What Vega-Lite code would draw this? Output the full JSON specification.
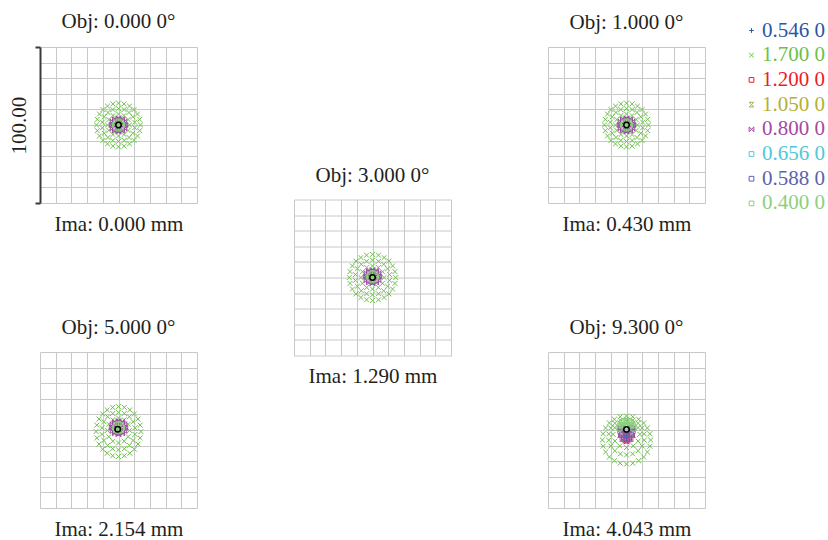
{
  "$schema": "https://vega.github.io/schema/vega-lite/v6.json",
  "padding": {"left": 8, "top": 11, "right": 0, "bottom": 5},
  "datasets": {
    "s": [
      {"p":1,"w":"1.700 0","x":14,"y":0},{"p":1,"w":"1.700 0","x":13.5,"y":3.6},{"p":1,"w":"1.700 0","x":12.1,"y":7},{"p":1,"w":"1.700 0","x":9.9,"y":9.9},{"p":1,"w":"1.700 0","x":7,"y":12.1},{"p":1,"w":"1.700 0","x":3.6,"y":13.5},{"p":1,"w":"1.700 0","x":0,"y":14},{"p":1,"w":"1.700 0","x":-3.6,"y":13.5},{"p":1,"w":"1.700 0","x":-7,"y":12.1},{"p":1,"w":"1.700 0","x":-9.9,"y":9.9},{"p":1,"w":"1.700 0","x":-12.1,"y":7},{"p":1,"w":"1.700 0","x":-13.5,"y":3.6},{"p":1,"w":"1.700 0","x":-14,"y":0},{"p":1,"w":"1.700 0","x":-13.5,"y":-3.6},{"p":1,"w":"1.700 0","x":-12.1,"y":-7},{"p":1,"w":"1.700 0","x":-9.9,"y":-9.9},{"p":1,"w":"1.700 0","x":-7,"y":-12.1},{"p":1,"w":"1.700 0","x":-3.6,"y":-13.5},{"p":1,"w":"1.700 0","x":0,"y":-14},{"p":1,"w":"1.700 0","x":3.6,"y":-13.5},{"p":1,"w":"1.700 0","x":7,"y":-12.1},{"p":1,"w":"1.700 0","x":9.9,"y":-9.9},{"p":1,"w":"1.700 0","x":12.1,"y":-7},{"p":1,"w":"1.700 0","x":13.5,"y":-3.6},
      {"p":1,"w":"1.700 0","x":10.3,"y":1.8},{"p":1,"w":"1.700 0","x":9.1,"y":5.3},{"p":1,"w":"1.700 0","x":6.7,"y":8},{"p":1,"w":"1.700 0","x":3.6,"y":9.9},{"p":1,"w":"1.700 0","x":0,"y":10.5},{"p":1,"w":"1.700 0","x":-3.6,"y":9.9},{"p":1,"w":"1.700 0","x":-6.7,"y":8},{"p":1,"w":"1.700 0","x":-9.1,"y":5.3},{"p":1,"w":"1.700 0","x":-10.3,"y":1.8},{"p":1,"w":"1.700 0","x":-10.3,"y":-1.8},{"p":1,"w":"1.700 0","x":-9.1,"y":-5.3},{"p":1,"w":"1.700 0","x":-6.7,"y":-8},{"p":1,"w":"1.700 0","x":-3.6,"y":-9.9},{"p":1,"w":"1.700 0","x":0,"y":-10.5},{"p":1,"w":"1.700 0","x":3.6,"y":-9.9},{"p":1,"w":"1.700 0","x":6.7,"y":-8},{"p":1,"w":"1.700 0","x":9.1,"y":-5.3},{"p":1,"w":"1.700 0","x":10.3,"y":-1.8},
      {"p":1,"w":"1.700 0","x":7,"y":0},{"p":1,"w":"1.700 0","x":6.1,"y":3.5},{"p":1,"w":"1.700 0","x":3.5,"y":6.1},{"p":1,"w":"1.700 0","x":0,"y":7},{"p":1,"w":"1.700 0","x":-3.5,"y":6.1},{"p":1,"w":"1.700 0","x":-6.1,"y":3.5},{"p":1,"w":"1.700 0","x":-7,"y":0},{"p":1,"w":"1.700 0","x":-6.1,"y":-3.5},{"p":1,"w":"1.700 0","x":-3.5,"y":-6.1},{"p":1,"w":"1.700 0","x":0,"y":-7},{"p":1,"w":"1.700 0","x":3.5,"y":-6.1},{"p":1,"w":"1.700 0","x":6.1,"y":-3.5},
      {"p":1,"w":"0.656 0","x":2,"y":2},{"p":1,"w":"0.656 0","x":-2,"y":2},{"p":1,"w":"0.656 0","x":-2,"y":-2},{"p":1,"w":"0.656 0","x":2,"y":-2},
      {"p":1,"w":"1.050 0","x":2.2,"y":0},{"p":1,"w":"1.050 0","x":0,"y":2.2},{"p":1,"w":"1.050 0","x":-2.2,"y":0},{"p":1,"w":"1.050 0","x":0,"y":-2.2},
      {"p":1,"w":"1.200 0","x":2.5,"y":0},{"p":1,"w":"1.200 0","x":0,"y":2.5},{"p":1,"w":"1.200 0","x":-2.5,"y":0},{"p":1,"w":"1.200 0","x":0,"y":-2.5},
      {"p":1,"w":"0.546 0","x":1.4,"y":1.4},{"p":1,"w":"0.546 0","x":-1.4,"y":1.4},{"p":1,"w":"0.546 0","x":-1.4,"y":-1.4},{"p":1,"w":"0.546 0","x":1.4,"y":-1.4},
      {"p":1,"w":"0.588 0","x":3.3,"y":0},{"p":1,"w":"0.588 0","x":2.3,"y":2.3},{"p":1,"w":"0.588 0","x":0,"y":3.3},{"p":1,"w":"0.588 0","x":-2.3,"y":2.3},{"p":1,"w":"0.588 0","x":-3.3,"y":0},{"p":1,"w":"0.588 0","x":-2.3,"y":-2.3},{"p":1,"w":"0.588 0","x":0,"y":-3.3},{"p":1,"w":"0.588 0","x":2.3,"y":-2.3},
      {"p":1,"w":"0.800 0","x":4.3,"y":0},{"p":1,"w":"0.800 0","x":3.7,"y":2.2},{"p":1,"w":"0.800 0","x":2.2,"y":3.7},{"p":1,"w":"0.800 0","x":0,"y":4.3},{"p":1,"w":"0.800 0","x":-2.2,"y":3.7},{"p":1,"w":"0.800 0","x":-3.7,"y":2.2},{"p":1,"w":"0.800 0","x":-4.3,"y":0},{"p":1,"w":"0.800 0","x":-3.7,"y":-2.2},{"p":1,"w":"0.800 0","x":-2.2,"y":-3.7},{"p":1,"w":"0.800 0","x":0,"y":-4.3},{"p":1,"w":"0.800 0","x":2.2,"y":-3.7},{"p":1,"w":"0.800 0","x":3.7,"y":-2.2},
      {"p":1,"w":"0.400 0","x":2.3,"y":0},{"p":1,"w":"0.400 0","x":1.6,"y":1.6},{"p":1,"w":"0.400 0","x":0,"y":2.3},{"p":1,"w":"0.400 0","x":-1.6,"y":1.6},{"p":1,"w":"0.400 0","x":-2.3,"y":0},{"p":1,"w":"0.400 0","x":-1.6,"y":-1.6},{"p":1,"w":"0.400 0","x":0,"y":-2.3},{"p":1,"w":"0.400 0","x":1.6,"y":-1.6},{"p":1,"w":"0.400 0","x":0,"y":0},

      {"p":2,"w":"1.700 0","x":14,"y":0},{"p":2,"w":"1.700 0","x":13.5,"y":3.6},{"p":2,"w":"1.700 0","x":12.1,"y":7},{"p":2,"w":"1.700 0","x":9.9,"y":9.9},{"p":2,"w":"1.700 0","x":7,"y":12.1},{"p":2,"w":"1.700 0","x":3.6,"y":13.5},{"p":2,"w":"1.700 0","x":0,"y":14},{"p":2,"w":"1.700 0","x":-3.6,"y":13.5},{"p":2,"w":"1.700 0","x":-7,"y":12.1},{"p":2,"w":"1.700 0","x":-9.9,"y":9.9},{"p":2,"w":"1.700 0","x":-12.1,"y":7},{"p":2,"w":"1.700 0","x":-13.5,"y":3.6},{"p":2,"w":"1.700 0","x":-14,"y":0},{"p":2,"w":"1.700 0","x":-13.5,"y":-3.6},{"p":2,"w":"1.700 0","x":-12.1,"y":-7},{"p":2,"w":"1.700 0","x":-9.9,"y":-9.9},{"p":2,"w":"1.700 0","x":-7,"y":-12.1},{"p":2,"w":"1.700 0","x":-3.6,"y":-13.5},{"p":2,"w":"1.700 0","x":0,"y":-14},{"p":2,"w":"1.700 0","x":3.6,"y":-13.5},{"p":2,"w":"1.700 0","x":7,"y":-12.1},{"p":2,"w":"1.700 0","x":9.9,"y":-9.9},{"p":2,"w":"1.700 0","x":12.1,"y":-7},{"p":2,"w":"1.700 0","x":13.5,"y":-3.6},
      {"p":2,"w":"1.700 0","x":10.3,"y":1.8},{"p":2,"w":"1.700 0","x":9.1,"y":5.3},{"p":2,"w":"1.700 0","x":6.7,"y":8},{"p":2,"w":"1.700 0","x":3.6,"y":9.9},{"p":2,"w":"1.700 0","x":0,"y":10.5},{"p":2,"w":"1.700 0","x":-3.6,"y":9.9},{"p":2,"w":"1.700 0","x":-6.7,"y":8},{"p":2,"w":"1.700 0","x":-9.1,"y":5.3},{"p":2,"w":"1.700 0","x":-10.3,"y":1.8},{"p":2,"w":"1.700 0","x":-10.3,"y":-1.8},{"p":2,"w":"1.700 0","x":-9.1,"y":-5.3},{"p":2,"w":"1.700 0","x":-6.7,"y":-8},{"p":2,"w":"1.700 0","x":-3.6,"y":-9.9},{"p":2,"w":"1.700 0","x":0,"y":-10.5},{"p":2,"w":"1.700 0","x":3.6,"y":-9.9},{"p":2,"w":"1.700 0","x":6.7,"y":-8},{"p":2,"w":"1.700 0","x":9.1,"y":-5.3},{"p":2,"w":"1.700 0","x":10.3,"y":-1.8},
      {"p":2,"w":"1.700 0","x":7,"y":0},{"p":2,"w":"1.700 0","x":6.1,"y":3.5},{"p":2,"w":"1.700 0","x":3.5,"y":6.1},{"p":2,"w":"1.700 0","x":0,"y":7},{"p":2,"w":"1.700 0","x":-3.5,"y":6.1},{"p":2,"w":"1.700 0","x":-6.1,"y":3.5},{"p":2,"w":"1.700 0","x":-7,"y":0},{"p":2,"w":"1.700 0","x":-6.1,"y":-3.5},{"p":2,"w":"1.700 0","x":-3.5,"y":-6.1},{"p":2,"w":"1.700 0","x":0,"y":-7},{"p":2,"w":"1.700 0","x":3.5,"y":-6.1},{"p":2,"w":"1.700 0","x":6.1,"y":-3.5},
      {"p":2,"w":"0.656 0","x":2,"y":2},{"p":2,"w":"0.656 0","x":-2,"y":2},{"p":2,"w":"0.656 0","x":-2,"y":-2},{"p":2,"w":"0.656 0","x":2,"y":-2},
      {"p":2,"w":"1.050 0","x":2.2,"y":0},{"p":2,"w":"1.050 0","x":0,"y":2.2},{"p":2,"w":"1.050 0","x":-2.2,"y":0},{"p":2,"w":"1.050 0","x":0,"y":-2.2},
      {"p":2,"w":"1.200 0","x":2.5,"y":0},{"p":2,"w":"1.200 0","x":0,"y":2.5},{"p":2,"w":"1.200 0","x":-2.5,"y":0},{"p":2,"w":"1.200 0","x":0,"y":-2.5},
      {"p":2,"w":"0.546 0","x":1.4,"y":1.4},{"p":2,"w":"0.546 0","x":-1.4,"y":1.4},{"p":2,"w":"0.546 0","x":-1.4,"y":-1.4},{"p":2,"w":"0.546 0","x":1.4,"y":-1.4},
      {"p":2,"w":"0.588 0","x":3.3,"y":0},{"p":2,"w":"0.588 0","x":2.3,"y":2.3},{"p":2,"w":"0.588 0","x":0,"y":3.3},{"p":2,"w":"0.588 0","x":-2.3,"y":2.3},{"p":2,"w":"0.588 0","x":-3.3,"y":0},{"p":2,"w":"0.588 0","x":-2.3,"y":-2.3},{"p":2,"w":"0.588 0","x":0,"y":-3.3},{"p":2,"w":"0.588 0","x":2.3,"y":-2.3},
      {"p":2,"w":"0.800 0","x":4.3,"y":0},{"p":2,"w":"0.800 0","x":3.7,"y":2.2},{"p":2,"w":"0.800 0","x":2.2,"y":3.7},{"p":2,"w":"0.800 0","x":0,"y":4.3},{"p":2,"w":"0.800 0","x":-2.2,"y":3.7},{"p":2,"w":"0.800 0","x":-3.7,"y":2.2},{"p":2,"w":"0.800 0","x":-4.3,"y":0},{"p":2,"w":"0.800 0","x":-3.7,"y":-2.2},{"p":2,"w":"0.800 0","x":-2.2,"y":-3.7},{"p":2,"w":"0.800 0","x":0,"y":-4.3},{"p":2,"w":"0.800 0","x":2.2,"y":-3.7},{"p":2,"w":"0.800 0","x":3.7,"y":-2.2},
      {"p":2,"w":"0.400 0","x":2.3,"y":0},{"p":2,"w":"0.400 0","x":1.6,"y":1.6},{"p":2,"w":"0.400 0","x":0,"y":2.3},{"p":2,"w":"0.400 0","x":-1.6,"y":1.6},{"p":2,"w":"0.400 0","x":-2.3,"y":0},{"p":2,"w":"0.400 0","x":-1.6,"y":-1.6},{"p":2,"w":"0.400 0","x":0,"y":-2.3},{"p":2,"w":"0.400 0","x":1.6,"y":-1.6},{"p":2,"w":"0.400 0","x":0,"y":0},

      {"p":3,"w":"1.700 0","x":14.8,"y":0},{"p":3,"w":"1.700 0","x":14.3,"y":3.8},{"p":3,"w":"1.700 0","x":12.8,"y":7.4},{"p":3,"w":"1.700 0","x":10.5,"y":10.5},{"p":3,"w":"1.700 0","x":7.4,"y":12.8},{"p":3,"w":"1.700 0","x":3.8,"y":14.3},{"p":3,"w":"1.700 0","x":0,"y":14.8},{"p":3,"w":"1.700 0","x":-3.8,"y":14.3},{"p":3,"w":"1.700 0","x":-7.4,"y":12.8},{"p":3,"w":"1.700 0","x":-10.5,"y":10.5},{"p":3,"w":"1.700 0","x":-12.8,"y":7.4},{"p":3,"w":"1.700 0","x":-14.3,"y":3.8},{"p":3,"w":"1.700 0","x":-14.8,"y":0},{"p":3,"w":"1.700 0","x":-14.3,"y":-3.8},{"p":3,"w":"1.700 0","x":-12.8,"y":-7.4},{"p":3,"w":"1.700 0","x":-10.5,"y":-10.5},{"p":3,"w":"1.700 0","x":-7.4,"y":-12.8},{"p":3,"w":"1.700 0","x":-3.8,"y":-14.3},{"p":3,"w":"1.700 0","x":0,"y":-14.8},{"p":3,"w":"1.700 0","x":3.8,"y":-14.3},{"p":3,"w":"1.700 0","x":7.4,"y":-12.8},{"p":3,"w":"1.700 0","x":10.5,"y":-10.5},{"p":3,"w":"1.700 0","x":12.8,"y":-7.4},{"p":3,"w":"1.700 0","x":14.3,"y":-3.8},
      {"p":3,"w":"1.700 0","x":10.9,"y":1.9},{"p":3,"w":"1.700 0","x":9.6,"y":5.6},{"p":3,"w":"1.700 0","x":7.1,"y":8.5},{"p":3,"w":"1.700 0","x":3.8,"y":10.4},{"p":3,"w":"1.700 0","x":0,"y":11.1},{"p":3,"w":"1.700 0","x":-3.8,"y":10.4},{"p":3,"w":"1.700 0","x":-7.1,"y":8.5},{"p":3,"w":"1.700 0","x":-9.6,"y":5.6},{"p":3,"w":"1.700 0","x":-10.9,"y":1.9},{"p":3,"w":"1.700 0","x":-10.9,"y":-1.9},{"p":3,"w":"1.700 0","x":-9.6,"y":-5.6},{"p":3,"w":"1.700 0","x":-7.1,"y":-8.5},{"p":3,"w":"1.700 0","x":-3.8,"y":-10.4},{"p":3,"w":"1.700 0","x":0,"y":-11.1},{"p":3,"w":"1.700 0","x":3.8,"y":-10.4},{"p":3,"w":"1.700 0","x":7.1,"y":-8.5},{"p":3,"w":"1.700 0","x":9.6,"y":-5.6},{"p":3,"w":"1.700 0","x":10.9,"y":-1.9},
      {"p":3,"w":"1.700 0","x":7.4,"y":0},{"p":3,"w":"1.700 0","x":6.4,"y":3.7},{"p":3,"w":"1.700 0","x":3.7,"y":6.4},{"p":3,"w":"1.700 0","x":0,"y":7.4},{"p":3,"w":"1.700 0","x":-3.7,"y":6.4},{"p":3,"w":"1.700 0","x":-6.4,"y":3.7},{"p":3,"w":"1.700 0","x":-7.4,"y":0},{"p":3,"w":"1.700 0","x":-6.4,"y":-3.7},{"p":3,"w":"1.700 0","x":-3.7,"y":-6.4},{"p":3,"w":"1.700 0","x":0,"y":-7.4},{"p":3,"w":"1.700 0","x":3.7,"y":-6.4},{"p":3,"w":"1.700 0","x":6.4,"y":-3.7},
      {"p":3,"w":"0.656 0","x":2,"y":2.5},{"p":3,"w":"0.656 0","x":-2,"y":2.5},{"p":3,"w":"0.656 0","x":-2,"y":-1.5},{"p":3,"w":"0.656 0","x":2,"y":-1.5},
      {"p":3,"w":"1.050 0","x":2.2,"y":0.5},{"p":3,"w":"1.050 0","x":0,"y":2.7},{"p":3,"w":"1.050 0","x":-2.2,"y":0.5},{"p":3,"w":"1.050 0","x":0,"y":-1.7},
      {"p":3,"w":"1.200 0","x":2.5,"y":0.5},{"p":3,"w":"1.200 0","x":0,"y":3},{"p":3,"w":"1.200 0","x":-2.5,"y":0.5},{"p":3,"w":"1.200 0","x":0,"y":-2},
      {"p":3,"w":"0.546 0","x":1.4,"y":1.9},{"p":3,"w":"0.546 0","x":-1.4,"y":1.9},{"p":3,"w":"0.546 0","x":-1.4,"y":-0.9},{"p":3,"w":"0.546 0","x":1.4,"y":-0.9},
      {"p":3,"w":"0.588 0","x":3.3,"y":0.5},{"p":3,"w":"0.588 0","x":2.3,"y":2.8},{"p":3,"w":"0.588 0","x":0,"y":3.8},{"p":3,"w":"0.588 0","x":-2.3,"y":2.8},{"p":3,"w":"0.588 0","x":-3.3,"y":0.5},{"p":3,"w":"0.588 0","x":-2.3,"y":-1.8},{"p":3,"w":"0.588 0","x":0,"y":-2.8},{"p":3,"w":"0.588 0","x":2.3,"y":-1.8},
      {"p":3,"w":"0.800 0","x":4.3,"y":0.5},{"p":3,"w":"0.800 0","x":3.7,"y":2.7},{"p":3,"w":"0.800 0","x":2.2,"y":4.2},{"p":3,"w":"0.800 0","x":0,"y":4.8},{"p":3,"w":"0.800 0","x":-2.2,"y":4.2},{"p":3,"w":"0.800 0","x":-3.7,"y":2.7},{"p":3,"w":"0.800 0","x":-4.3,"y":0.5},{"p":3,"w":"0.800 0","x":-3.7,"y":-1.7},{"p":3,"w":"0.800 0","x":-2.2,"y":-3.2},{"p":3,"w":"0.800 0","x":0,"y":-3.8},{"p":3,"w":"0.800 0","x":2.2,"y":-3.2},{"p":3,"w":"0.800 0","x":3.7,"y":-1.7},
      {"p":3,"w":"0.400 0","x":2.3,"y":0.5},{"p":3,"w":"0.400 0","x":1.6,"y":2.1},{"p":3,"w":"0.400 0","x":0,"y":2.8},{"p":3,"w":"0.400 0","x":-1.6,"y":2.1},{"p":3,"w":"0.400 0","x":-2.3,"y":0.5},{"p":3,"w":"0.400 0","x":-1.6,"y":-1.1},{"p":3,"w":"0.400 0","x":0,"y":-1.8},{"p":3,"w":"0.400 0","x":1.6,"y":-1.1},{"p":3,"w":"0.400 0","x":0,"y":0.5},

      {"p":4,"w":"1.700 0","x":14.3,"y":-1},{"p":4,"w":"1.700 0","x":13.8,"y":3.1},{"p":4,"w":"1.700 0","x":12.4,"y":7},{"p":4,"w":"1.700 0","x":10.1,"y":10.3},{"p":4,"w":"1.700 0","x":7.2,"y":12.9},{"p":4,"w":"1.700 0","x":3.7,"y":14.5},{"p":4,"w":"1.700 0","x":0,"y":15},{"p":4,"w":"1.700 0","x":-3.7,"y":14.5},{"p":4,"w":"1.700 0","x":-7.2,"y":12.9},{"p":4,"w":"1.700 0","x":-10.1,"y":10.3},{"p":4,"w":"1.700 0","x":-12.4,"y":7},{"p":4,"w":"1.700 0","x":-13.8,"y":3.1},{"p":4,"w":"1.700 0","x":-14.3,"y":-1},{"p":4,"w":"1.700 0","x":-13.8,"y":-5.1},{"p":4,"w":"1.700 0","x":-12.4,"y":-9},{"p":4,"w":"1.700 0","x":-10.1,"y":-12.3},{"p":4,"w":"1.700 0","x":-7.2,"y":-14.9},{"p":4,"w":"1.700 0","x":-3.7,"y":-16.5},{"p":4,"w":"1.700 0","x":0,"y":-17},{"p":4,"w":"1.700 0","x":3.7,"y":-16.5},{"p":4,"w":"1.700 0","x":7.2,"y":-14.9},{"p":4,"w":"1.700 0","x":10.1,"y":-12.3},{"p":4,"w":"1.700 0","x":12.4,"y":-9},{"p":4,"w":"1.700 0","x":13.8,"y":-5.1},
      {"p":4,"w":"1.700 0","x":10.5,"y":1.4},{"p":4,"w":"1.700 0","x":9.3,"y":5.3},{"p":4,"w":"1.700 0","x":6.9,"y":8.5},{"p":4,"w":"1.700 0","x":3.7,"y":10.6},{"p":4,"w":"1.700 0","x":0,"y":11.3},{"p":4,"w":"1.700 0","x":-3.7,"y":10.6},{"p":4,"w":"1.700 0","x":-6.9,"y":8.5},{"p":4,"w":"1.700 0","x":-9.3,"y":5.3},{"p":4,"w":"1.700 0","x":-10.5,"y":1.4},{"p":4,"w":"1.700 0","x":-10.5,"y":-2.8},{"p":4,"w":"1.700 0","x":-9.3,"y":-6.7},{"p":4,"w":"1.700 0","x":-6.9,"y":-9.9},{"p":4,"w":"1.700 0","x":-3.7,"y":-12},{"p":4,"w":"1.700 0","x":0,"y":-12.7},{"p":4,"w":"1.700 0","x":3.7,"y":-12},{"p":4,"w":"1.700 0","x":6.9,"y":-9.9},{"p":4,"w":"1.700 0","x":9.3,"y":-6.7},{"p":4,"w":"1.700 0","x":10.5,"y":-2.8},
      {"p":4,"w":"1.700 0","x":7.1,"y":-0.3},{"p":4,"w":"1.700 0","x":6.1,"y":3.7},{"p":4,"w":"1.700 0","x":3.6,"y":6.6},{"p":4,"w":"1.700 0","x":0,"y":7.7},{"p":4,"w":"1.700 0","x":-3.6,"y":6.6},{"p":4,"w":"1.700 0","x":-6.1,"y":3.7},{"p":4,"w":"1.700 0","x":-7.1,"y":-0.3},{"p":4,"w":"1.700 0","x":-6.1,"y":-4.3},{"p":4,"w":"1.700 0","x":-3.6,"y":-7.2},{"p":4,"w":"1.700 0","x":0,"y":-8.3},{"p":4,"w":"1.700 0","x":3.6,"y":-7.2},{"p":4,"w":"1.700 0","x":6.1,"y":-4.3},
      {"p":4,"w":"0.656 0","x":2,"y":3.5},{"p":4,"w":"0.656 0","x":-2,"y":3.5},{"p":4,"w":"0.656 0","x":-2,"y":-0.5},{"p":4,"w":"0.656 0","x":2,"y":-0.5},
      {"p":4,"w":"1.050 0","x":2.2,"y":1.5},{"p":4,"w":"1.050 0","x":0,"y":3.7},{"p":4,"w":"1.050 0","x":-2.2,"y":1.5},{"p":4,"w":"1.050 0","x":0,"y":-0.7},
      {"p":4,"w":"1.200 0","x":2.5,"y":1.5},{"p":4,"w":"1.200 0","x":0,"y":4},{"p":4,"w":"1.200 0","x":-2.5,"y":1.5},{"p":4,"w":"1.200 0","x":0,"y":-1},
      {"p":4,"w":"0.546 0","x":1.4,"y":2.9},{"p":4,"w":"0.546 0","x":-1.4,"y":2.9},{"p":4,"w":"0.546 0","x":-1.4,"y":0.1},{"p":4,"w":"0.546 0","x":1.4,"y":0.1},
      {"p":4,"w":"0.588 0","x":3.3,"y":1.5},{"p":4,"w":"0.588 0","x":2.3,"y":3.8},{"p":4,"w":"0.588 0","x":0,"y":4.8},{"p":4,"w":"0.588 0","x":-2.3,"y":3.8},{"p":4,"w":"0.588 0","x":-3.3,"y":1.5},{"p":4,"w":"0.588 0","x":-2.3,"y":-0.8},{"p":4,"w":"0.588 0","x":0,"y":-1.8},{"p":4,"w":"0.588 0","x":2.3,"y":-0.8},
      {"p":4,"w":"0.800 0","x":4.3,"y":1.5},{"p":4,"w":"0.800 0","x":3.7,"y":3.7},{"p":4,"w":"0.800 0","x":2.2,"y":5.2},{"p":4,"w":"0.800 0","x":0,"y":5.8},{"p":4,"w":"0.800 0","x":-2.2,"y":5.2},{"p":4,"w":"0.800 0","x":-3.7,"y":3.7},{"p":4,"w":"0.800 0","x":-4.3,"y":1.5},{"p":4,"w":"0.800 0","x":-3.7,"y":-0.7},{"p":4,"w":"0.800 0","x":-2.2,"y":-2.2},{"p":4,"w":"0.800 0","x":0,"y":-2.8},{"p":4,"w":"0.800 0","x":2.2,"y":-2.2},{"p":4,"w":"0.800 0","x":3.7,"y":-0.7},
      {"p":4,"w":"0.400 0","x":2.3,"y":1.5},{"p":4,"w":"0.400 0","x":1.6,"y":3.1},{"p":4,"w":"0.400 0","x":0,"y":3.8},{"p":4,"w":"0.400 0","x":-1.6,"y":3.1},{"p":4,"w":"0.400 0","x":-2.3,"y":1.5},{"p":4,"w":"0.400 0","x":-1.6,"y":-0.1},{"p":4,"w":"0.400 0","x":0,"y":-0.8},{"p":4,"w":"0.400 0","x":1.6,"y":-0.1},{"p":4,"w":"0.400 0","x":0,"y":1.5},

      {"p":5,"w":"1.700 0","x":15.4,"y":-6.4},{"p":5,"w":"1.700 0","x":14.9,"y":-2.4},{"p":5,"w":"1.700 0","x":13.3,"y":1.3},{"p":5,"w":"1.700 0","x":10.9,"y":4.5},{"p":5,"w":"1.700 0","x":7.7,"y":6.9},{"p":5,"w":"1.700 0","x":4,"y":8.5},{"p":5,"w":"1.700 0","x":0,"y":9},{"p":5,"w":"1.700 0","x":-4,"y":8.5},{"p":5,"w":"1.700 0","x":-7.7,"y":6.9},{"p":5,"w":"1.700 0","x":-10.9,"y":4.5},{"p":5,"w":"1.700 0","x":-13.3,"y":1.3},{"p":5,"w":"1.700 0","x":-14.9,"y":-2.4},{"p":5,"w":"1.700 0","x":-15.4,"y":-6.4},{"p":5,"w":"1.700 0","x":-14.9,"y":-10.4},{"p":5,"w":"1.700 0","x":-13.3,"y":-14.1},{"p":5,"w":"1.700 0","x":-10.9,"y":-17.3},{"p":5,"w":"1.700 0","x":-7.7,"y":-19.7},{"p":5,"w":"1.700 0","x":-4,"y":-21.3},{"p":5,"w":"1.700 0","x":0,"y":-21.8},{"p":5,"w":"1.700 0","x":4,"y":-21.3},{"p":5,"w":"1.700 0","x":7.7,"y":-19.7},{"p":5,"w":"1.700 0","x":10.9,"y":-17.3},{"p":5,"w":"1.700 0","x":13.3,"y":-14.1},{"p":5,"w":"1.700 0","x":14.9,"y":-10.4},
      {"p":5,"w":"1.700 0","x":11.3,"y":-2.5},{"p":5,"w":"1.700 0","x":10,"y":1.3},{"p":5,"w":"1.700 0","x":7.4,"y":4.3},{"p":5,"w":"1.700 0","x":3.9,"y":6.3},{"p":5,"w":"1.700 0","x":0,"y":7},{"p":5,"w":"1.700 0","x":-3.9,"y":6.3},{"p":5,"w":"1.700 0","x":-7.4,"y":4.3},{"p":5,"w":"1.700 0","x":-10,"y":1.3},{"p":5,"w":"1.700 0","x":-11.3,"y":-2.5},{"p":5,"w":"1.700 0","x":-11.3,"y":-6.5},{"p":5,"w":"1.700 0","x":-10,"y":-10.3},{"p":5,"w":"1.700 0","x":-7.4,"y":-13.3},{"p":5,"w":"1.700 0","x":-3.9,"y":-15.3},{"p":5,"w":"1.700 0","x":0,"y":-16},{"p":5,"w":"1.700 0","x":3.9,"y":-15.3},{"p":5,"w":"1.700 0","x":7.4,"y":-13.3},{"p":5,"w":"1.700 0","x":10,"y":-10.3},{"p":5,"w":"1.700 0","x":11.3,"y":-6.5},
      {"p":5,"w":"1.700 0","x":8.5,"y":-2.8},{"p":5,"w":"1.700 0","x":7.4,"y":1.5},{"p":5,"w":"1.700 0","x":4.3,"y":4.6},{"p":5,"w":"1.700 0","x":0,"y":5.7},{"p":5,"w":"1.700 0","x":-4.3,"y":4.6},{"p":5,"w":"1.700 0","x":-7.4,"y":1.5},{"p":5,"w":"1.700 0","x":-8.5,"y":-2.8},{"p":5,"w":"1.700 0","x":-7.4,"y":-7.1},{"p":5,"w":"1.700 0","x":-4.3,"y":-10.2},{"p":5,"w":"1.700 0","x":0,"y":-11.3},{"p":5,"w":"1.700 0","x":4.3,"y":-10.2},{"p":5,"w":"1.700 0","x":7.4,"y":-7.1},
      {"p":5,"w":"1.700 0","x":4.3,"y":1.5},{"p":5,"w":"1.700 0","x":0,"y":4},{"p":5,"w":"1.700 0","x":-4.3,"y":1.5},{"p":5,"w":"1.700 0","x":-4.3,"y":-3.5},{"p":5,"w":"1.700 0","x":0,"y":-6},{"p":5,"w":"1.700 0","x":4.3,"y":-3.5},
      {"p":5,"w":"0.656 0","x":-2.5,"y":1.5},{"p":5,"w":"0.656 0","x":2.5,"y":1.5},{"p":5,"w":"0.656 0","x":0,"y":-1},
      {"p":5,"w":"1.050 0","x":-2.5,"y":-1},{"p":5,"w":"1.050 0","x":2.5,"y":-1},{"p":5,"w":"1.050 0","x":0,"y":-3},
      {"p":5,"w":"1.200 0","x":-1.5,"y":-6},{"p":5,"w":"1.200 0","x":1.5,"y":-6},{"p":5,"w":"1.200 0","x":0,"y":-6.8},
      {"p":5,"w":"0.546 0","x":-3,"y":0},{"p":5,"w":"0.546 0","x":3,"y":0},{"p":5,"w":"0.546 0","x":0,"y":-2.5},
      {"p":5,"w":"0.588 0","x":-3.5,"y":1},{"p":5,"w":"0.588 0","x":3.5,"y":1},{"p":5,"w":"0.588 0","x":-3,"y":-3},{"p":5,"w":"0.588 0","x":3,"y":-3},{"p":5,"w":"0.588 0","x":0,"y":-5.5},{"p":5,"w":"0.588 0","x":-1.5,"y":-5},{"p":5,"w":"0.588 0","x":1.5,"y":-5},
      {"p":5,"w":"0.800 0","x":-4,"y":0},{"p":5,"w":"0.800 0","x":4,"y":0},{"p":5,"w":"0.800 0","x":-3.5,"y":-3.5},{"p":5,"w":"0.800 0","x":3.5,"y":-3.5},{"p":5,"w":"0.800 0","x":-2.5,"y":-6},{"p":5,"w":"0.800 0","x":2.5,"y":-6},{"p":5,"w":"0.800 0","x":0,"y":-7.5},{"p":5,"w":"0.800 0","x":0,"y":-2},
      {"p":5,"w":"0.400 0","x":-4,"y":3},{"p":5,"w":"0.400 0","x":4,"y":3},{"p":5,"w":"0.400 0","x":-3,"y":5},{"p":5,"w":"0.400 0","x":3,"y":5},{"p":5,"w":"0.400 0","x":0,"y":6},{"p":5,"w":"0.400 0","x":-1.5,"y":5.8},{"p":5,"w":"0.400 0","x":1.5,"y":5.8},{"p":5,"w":"0.400 0","x":-4.5,"y":1},{"p":5,"w":"0.400 0","x":4.5,"y":1},{"p":5,"w":"0.400 0","x":0,"y":2},{"p":5,"w":"0.400 0","x":-2,"y":3},{"p":5,"w":"0.400 0","x":2,"y":3}
    ],
    "a": [
      {"p":1,"x":0,"y":0},{"p":2,"x":0,"y":0},{"p":3,"x":0,"y":0},{"p":4,"x":-0.5,"y":0.5},{"p":5,"x":0,"y":0.4}
    ]
  },
  "config": {
    "view": {"stroke": null},
    "font": "Liberation Serif",
    "title": {"font": "Liberation Serif", "fontSize": 21, "fontWeight": "normal", "color": "#231f20", "offset": 14, "anchor": "middle"},
    "axis": {"domain": false, "ticks": false, "labels": false, "grid": true, "gridColor": "#c8c8c8", "gridWidth": 1, "tickCount": 10, "titleFont": "Liberation Serif", "titleFontSize": 21, "titleFontWeight": "normal", "titleColor": "#231f20", "titlePadding": 10},
    "legend": {"labelFont": "Liberation Serif", "labelFontSize": 21, "symbolSize": 22, "symbolStrokeWidth": 1.2, "rowPadding": 2.7, "labelOffset": 0, "padding": 0, "orient": "none", "legendX": 701, "legendY": -27},
    "point": {"opacity": 1, "filled": false, "size": 24, "strokeWidth": 1}
  },
  "resolve": {"scale": {"color": "shared", "shape": "shared"}},
  "spacing": 97,
  "center": true,
  "hconcat": [
    {
      "spacing": 83,
      "vconcat": [
        {
          "width": 157, "height": 156,
          "title": "Obj: 0.000 0°",
          "layer": [
            {"data": {"name": "s"}, "transform": [{"filter": "datum.p == 1"}], "mark": "point",
             "encoding": {
               "x": {"field": "x", "type": "quantitative", "scale": {"domain": [-50, 50], "nice": false}, "axis": {"title": "Ima: 0.000 mm"}},
               "y": {"field": "y", "type": "quantitative", "scale": {"domain": [-50, 50], "nice": false}, "axis": {"title": "100.00", "titlePadding": 5, "domain": true, "domainColor": "#3a3a3a", "domainWidth": 2, "ticks": true, "tickSize": 5, "tickWidth": 2, "tickColor": "#3a3a3a", "tickOpacity": {"condition": {"test": "abs(datum.value) == 50", "value": 1}, "value": 0}}},
               "color": {"field": "w", "type": "nominal", "scale": {"domain": ["0.546 0","1.700 0","1.200 0","1.050 0","0.800 0","0.656 0","0.588 0","0.400 0"], "range": ["#2a55a8","#6cc04a","#ee1c24","#b5b033","#a349a4","#4fc8d8","#5a63ad","#8ccf7e"]}, "legend": {"title": null, "labelColor": {"expr": "scale('color', datum.value)"}}},
               "shape": {"field": "w", "type": "nominal", "scale": {"domain": ["0.546 0","1.700 0","1.200 0","1.050 0","0.800 0","0.656 0","0.588 0","0.400 0"], "range": ["M-1,0L1,0M0,-1L0,1","M-1,-1L1,1M-1,1L1,-1","square","M-1,-1L1,-1L-1,1L1,1Z","M-1,-1L-1,1L1,-1L1,1Z","square","square","square"]}, "legend": {"title": null, "labelColor": {"expr": "scale('color', datum.value)"}}}
             }},
            {"data": {"name": "a"}, "transform": [{"filter": "datum.p == 1"}], "mark": {"type": "point", "shape": "circle", "filled": false, "stroke": "#000000", "strokeWidth": 1.5, "size": 30},
             "encoding": {"x": {"field": "x", "type": "quantitative"}, "y": {"field": "y", "type": "quantitative"}}},
            {"mark": {"type": "rule", "color": "#3a3a3a", "strokeWidth": 2}, "encoding": {"x": {"datum": -50}, "x2": {"datum": -46.8}, "y": {"datum": 50}}},
            {"mark": {"type": "rule", "color": "#3a3a3a", "strokeWidth": 2}, "encoding": {"x": {"datum": -50}, "x2": {"datum": -46.8}, "y": {"datum": -50}}}
          ]
        },
        {
          "width": 157, "height": 156,
          "title": "Obj: 5.000 0°",
          "layer": [
            {"data": {"name": "s"}, "transform": [{"filter": "datum.p == 4"}], "mark": "point",
             "encoding": {
               "x": {"field": "x", "type": "quantitative", "scale": {"domain": [-50, 50], "nice": false}, "axis": {"title": "Ima: 2.154 mm"}},
               "y": {"field": "y", "type": "quantitative", "scale": {"domain": [-50, 50], "nice": false}, "axis": {"title": null}},
               "color": {"field": "w", "type": "nominal", "scale": {"domain": ["0.546 0","1.700 0","1.200 0","1.050 0","0.800 0","0.656 0","0.588 0","0.400 0"], "range": ["#2a55a8","#6cc04a","#ee1c24","#b5b033","#a349a4","#4fc8d8","#5a63ad","#8ccf7e"]}, "legend": {"title": null, "labelColor": {"expr": "scale('color', datum.value)"}}},
               "shape": {"field": "w", "type": "nominal", "scale": {"domain": ["0.546 0","1.700 0","1.200 0","1.050 0","0.800 0","0.656 0","0.588 0","0.400 0"], "range": ["M-1,0L1,0M0,-1L0,1","M-1,-1L1,1M-1,1L1,-1","square","M-1,-1L1,-1L-1,1L1,1Z","M-1,-1L-1,1L1,-1L1,1Z","square","square","square"]}, "legend": {"title": null, "labelColor": {"expr": "scale('color', datum.value)"}}}
             }},
            {"data": {"name": "a"}, "transform": [{"filter": "datum.p == 4"}], "mark": {"type": "point", "shape": "circle", "filled": false, "stroke": "#000000", "strokeWidth": 1.5, "size": 30},
             "encoding": {"x": {"field": "x", "type": "quantitative"}, "y": {"field": "y", "type": "quantitative"}}}
          ]
        }
      ]
    },
    {
      "width": 157, "height": 156,
      "title": "Obj: 3.000 0°",
      "layer": [
        {"data": {"name": "s"}, "transform": [{"filter": "datum.p == 3"}], "mark": "point",
         "encoding": {
           "x": {"field": "x", "type": "quantitative", "scale": {"domain": [-50, 50], "nice": false}, "axis": {"title": "Ima: 1.290 mm"}},
           "y": {"field": "y", "type": "quantitative", "scale": {"domain": [-50, 50], "nice": false}, "axis": {"title": null}},
           "color": {"field": "w", "type": "nominal", "scale": {"domain": ["0.546 0","1.700 0","1.200 0","1.050 0","0.800 0","0.656 0","0.588 0","0.400 0"], "range": ["#2a55a8","#6cc04a","#ee1c24","#b5b033","#a349a4","#4fc8d8","#5a63ad","#8ccf7e"]}, "legend": {"title": null, "labelColor": {"expr": "scale('color', datum.value)"}}},
           "shape": {"field": "w", "type": "nominal", "scale": {"domain": ["0.546 0","1.700 0","1.200 0","1.050 0","0.800 0","0.656 0","0.588 0","0.400 0"], "range": ["M-1,0L1,0M0,-1L0,1","M-1,-1L1,1M-1,1L1,-1","square","M-1,-1L1,-1L-1,1L1,1Z","M-1,-1L-1,1L1,-1L1,1Z","square","square","square"]}, "legend": {"title": null, "labelColor": {"expr": "scale('color', datum.value)"}}}
         }},
        {"data": {"name": "a"}, "transform": [{"filter": "datum.p == 3"}], "mark": {"type": "point", "shape": "circle", "filled": false, "stroke": "#000000", "strokeWidth": 1.5, "size": 30},
         "encoding": {"x": {"field": "x", "type": "quantitative"}, "y": {"field": "y", "type": "quantitative"}}}
      ]
    },
    {
      "spacing": 83,
      "vconcat": [
        {
          "width": 157, "height": 156,
          "title": "Obj: 1.000 0°",
          "layer": [
            {"data": {"name": "s"}, "transform": [{"filter": "datum.p == 2"}], "mark": "point",
             "encoding": {
               "x": {"field": "x", "type": "quantitative", "scale": {"domain": [-50, 50], "nice": false}, "axis": {"title": "Ima: 0.430 mm"}},
               "y": {"field": "y", "type": "quantitative", "scale": {"domain": [-50, 50], "nice": false}, "axis": {"title": null}},
               "color": {"field": "w", "type": "nominal", "scale": {"domain": ["0.546 0","1.700 0","1.200 0","1.050 0","0.800 0","0.656 0","0.588 0","0.400 0"], "range": ["#2a55a8","#6cc04a","#ee1c24","#b5b033","#a349a4","#4fc8d8","#5a63ad","#8ccf7e"]}, "legend": {"title": null, "labelColor": {"expr": "scale('color', datum.value)"}}},
               "shape": {"field": "w", "type": "nominal", "scale": {"domain": ["0.546 0","1.700 0","1.200 0","1.050 0","0.800 0","0.656 0","0.588 0","0.400 0"], "range": ["M-1,0L1,0M0,-1L0,1","M-1,-1L1,1M-1,1L1,-1","square","M-1,-1L1,-1L-1,1L1,1Z","M-1,-1L-1,1L1,-1L1,1Z","square","square","square"]}, "legend": {"title": null, "labelColor": {"expr": "scale('color', datum.value)"}}}
             }},
            {"data": {"name": "a"}, "transform": [{"filter": "datum.p == 2"}], "mark": {"type": "point", "shape": "circle", "filled": false, "stroke": "#000000", "strokeWidth": 1.5, "size": 30},
             "encoding": {"x": {"field": "x", "type": "quantitative"}, "y": {"field": "y", "type": "quantitative"}}}
          ]
        },
        {
          "width": 157, "height": 156,
          "title": "Obj: 9.300 0°",
          "layer": [
            {"data": {"name": "s"}, "transform": [{"filter": "datum.p == 5"}], "mark": "point",
             "encoding": {
               "x": {"field": "x", "type": "quantitative", "scale": {"domain": [-50, 50], "nice": false}, "axis": {"title": "Ima: 4.043 mm"}},
               "y": {"field": "y", "type": "quantitative", "scale": {"domain": [-50, 50], "nice": false}, "axis": {"title": null}},
               "color": {"field": "w", "type": "nominal", "scale": {"domain": ["0.546 0","1.700 0","1.200 0","1.050 0","0.800 0","0.656 0","0.588 0","0.400 0"], "range": ["#2a55a8","#6cc04a","#ee1c24","#b5b033","#a349a4","#4fc8d8","#5a63ad","#8ccf7e"]}, "legend": {"title": null, "labelColor": {"expr": "scale('color', datum.value)"}}},
               "shape": {"field": "w", "type": "nominal", "scale": {"domain": ["0.546 0","1.700 0","1.200 0","1.050 0","0.800 0","0.656 0","0.588 0","0.400 0"], "range": ["M-1,0L1,0M0,-1L0,1","M-1,-1L1,1M-1,1L1,-1","square","M-1,-1L1,-1L-1,1L1,1Z","M-1,-1L-1,1L1,-1L1,1Z","square","square","square"]}, "legend": {"title": null, "labelColor": {"expr": "scale('color', datum.value)"}}}
             }},
            {"data": {"name": "a"}, "transform": [{"filter": "datum.p == 5"}], "mark": {"type": "point", "shape": "circle", "filled": false, "stroke": "#000000", "strokeWidth": 1.5, "size": 30},
             "encoding": {"x": {"field": "x", "type": "quantitative"}, "y": {"field": "y", "type": "quantitative"}}}
          ]
        }
      ]
    }
  ]
}
